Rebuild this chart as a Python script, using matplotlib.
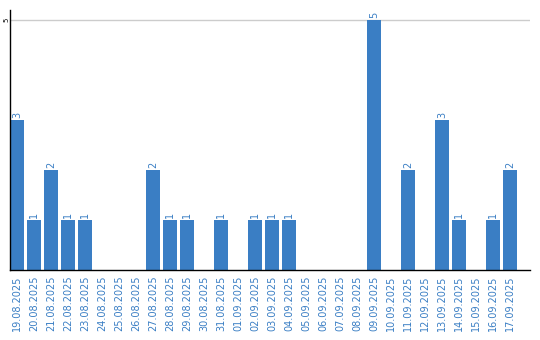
import matplotlib
matplotlib.use("Agg")
import matplotlib.pyplot as plt

dates = ["19.08.2025", "20.08.2025", "21.08.2025", "22.08.2025", "23.08.2025",
         "24.08.2025", "25.08.2025", "26.08.2025", "27.08.2025", "28.08.2025",
         "29.08.2025", "30.08.2025", "31.08.2025", "01.09.2025", "02.09.2025",
         "03.09.2025", "04.09.2025", "05.09.2025", "06.09.2025", "07.09.2025",
         "08.09.2025", "09.09.2025", "10.09.2025", "11.09.2025", "12.09.2025",
         "13.09.2025", "14.09.2025", "15.09.2025", "16.09.2025", "17.09.2025"]
counts = [3, 1, 2, 1, 1, 0, 0, 0, 2, 1,
          1, 0, 1, 0, 1, 1, 1, 0, 0, 0,
          0, 5, 0, 2, 0, 3, 1, 0, 1, 2]

blue = "#3a7ec4"

fig = plt.figure(figsize=(5.4, 3.4), dpi=100)
ax = fig.add_axes([10 / 540, 70 / 340, 520 / 540, 260 / 340])

x = range(len(dates))
ax.bar(x, counts, width=0.82, color=blue, zorder=2)
for i, v in enumerate(counts):
    if v > 0:
        ax.text(i, v + 0.04, str(v), rotation=90, ha="center", va="bottom",
                color=blue, fontsize=7)

ax.set_xlim(-0.41, 30.18)
ax.set_ylim(0, 5.2)
ax.set_yticks([5])
ax.set_yticklabels(["5"], rotation=90, fontsize=5, va="center")
ax.axhline(5, color="#cccccc", lw=1, zorder=1)
ax.set_xticks(list(x))
ax.set_xticklabels(dates, rotation=90, fontsize=7, color=blue)
ax.tick_params(length=0, pad=4)
ax.tick_params(axis="y", pad=0.5)
for s in ["top", "right"]:
    ax.spines[s].set_visible(False)
ax.spines["left"].set_linewidth(1)
ax.spines["bottom"].set_linewidth(1)

fig.savefig("out.png", dpi=100)
